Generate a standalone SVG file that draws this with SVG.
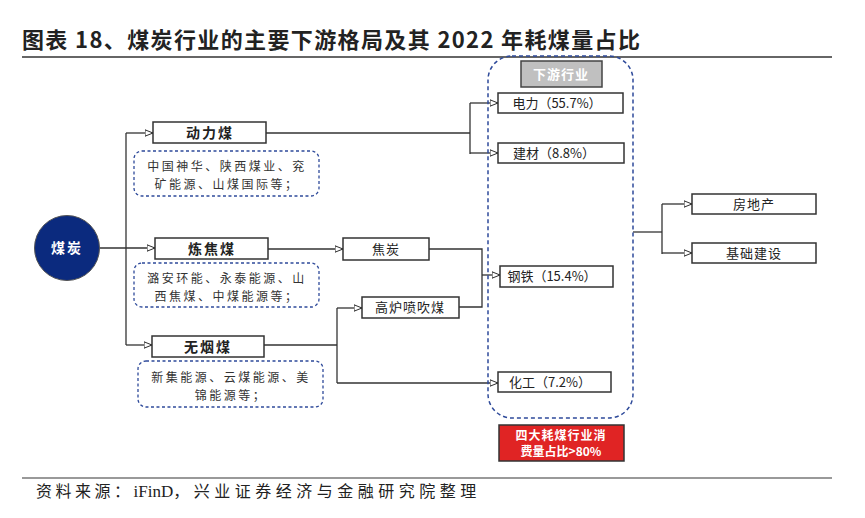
<svg xmlns="http://www.w3.org/2000/svg" width="865" height="518" viewBox="0 0 865 518">
<defs>
<marker id="arr" viewBox="0 0 10 10" refX="10" refY="5" markerWidth="8" markerHeight="8" markerUnits="userSpaceOnUse" orient="auto">
<path d="M0,1 L10,5 L0,9 Z" fill="#fff" stroke="#222" stroke-width="1.2"/>
</marker>
<style>
text{font-family:"Noto Sans CJK SC","Liberation Sans",sans-serif;fill:#222;}
.box{fill:#fff;stroke:#333;stroke-width:1.5;}
.dash{fill:#fff;stroke:#2E4A9A;stroke-width:1.3;stroke-dasharray:3,2.5;}
.t{font-size:13px;text-anchor:middle;}
.b{font-size:14px;font-weight:bold;text-anchor:middle;letter-spacing:2px;}
.d{font-size:12px;text-anchor:middle;letter-spacing:2.5px;fill:#333;}
.ln{fill:none;stroke:#333;stroke-width:1.3;}
</style>
</defs>
<rect width="865" height="518" fill="#fff"/>
<text x="22" y="48" font-size="22" font-weight="bold" textLength="618" lengthAdjust="spacing">图表 18、煤炭行业的主要下游格局及其 2022 年耗煤量占比</text>
<line x1="22" y1="57" x2="832" y2="57" stroke="#666" stroke-width="2"/>
<line x1="22" y1="478" x2="832" y2="478" stroke="#777" stroke-width="1.5"/>
<text x="36" y="497" font-size="16"><tspan letter-spacing="3.5">资料来源：</tspan><tspan font-family="Liberation Serif" font-size="17">iFinD</tspan><tspan letter-spacing="4.5">，兴业证券经济与金融研究院整理</tspan></text>

<g id="connectors">
<path class="ln" d="M100,248 H155" marker-end="url(#arr)"/>
<path class="ln" d="M126,133 V345"/>
<path class="ln" d="M126,133 H153" marker-end="url(#arr)"/>
<path class="ln" d="M126,345 H152" marker-end="url(#arr)"/>
<path class="ln" d="M266,133 H470"/>
<path class="ln" d="M470,103 V154"/>
<path class="ln" d="M470,103 H498" marker-end="url(#arr)"/>
<path class="ln" d="M470,153 H498" marker-end="url(#arr)"/>
<path class="ln" d="M268,249 H343" marker-end="url(#arr)"/>
<path class="ln" d="M429,249 H482 V307 H459"/>
<path class="ln" d="M482,275 H500" marker-end="url(#arr)"/>
<path class="ln" d="M264,345 H337"/>
<path class="ln" d="M337,308 V383"/>
<path class="ln" d="M337,308 H362" marker-end="url(#arr)"/>
<path class="ln" d="M337,383 H498" marker-end="url(#arr)"/>
<path class="ln" d="M633,232 H662"/>
<path class="ln" d="M662,204 V254"/>
<path class="ln" d="M662,204 H692" marker-end="url(#arr)"/>
<path class="ln" d="M662,253 H692" marker-end="url(#arr)"/>
</g>

<g id="downstream-group">
<rect x="488" y="56" width="145" height="362" rx="24" ry="24" fill="none" stroke="#2E4A9A" stroke-width="1.5" stroke-dasharray="4,3"/>
</g>

<g id="coal">
<circle cx="67" cy="248" r="32.5" fill="#0B2A7E" stroke="#555" stroke-width="1"/>
<text x="67" y="253" font-size="14" font-weight="bold" text-anchor="middle" style="fill:#fff" letter-spacing="2">煤炭</text>
</g>

<g id="dongliMei">
<rect class="box" x="153" y="122" width="113" height="21"/>
<text class="b" x="210" y="138">动力煤</text>
</g>
<g id="dongliMei-companies">
<rect class="dash" x="134" y="151" width="185" height="45" rx="8"/>
<text class="d" x="227" y="171">中国神华、陕西煤业、兖</text>
<text class="d" x="227" y="189">矿能源、山煤国际等；</text>
</g>

<g id="lianjiaoMei">
<rect class="box" x="155" y="238" width="113" height="21"/>
<text class="b" x="212" y="254">炼焦煤</text>
</g>
<g id="lianjiaoMei-companies">
<rect class="dash" x="134" y="263" width="185" height="44" rx="8"/>
<text class="d" x="227" y="283">潞安环能、永泰能源、山</text>
<text class="d" x="227" y="301">西焦煤、中煤能源等；</text>
</g>

<g id="wuyanMei">
<rect class="box" x="152" y="336" width="112" height="21"/>
<text class="b" x="208" y="352">无烟煤</text>
</g>
<g id="wuyanMei-companies">
<rect class="dash" x="138" y="361" width="185" height="46" rx="8"/>
<text class="d" x="231" y="382">新集能源、云煤能源、美</text>
<text class="d" x="231" y="400">锦能源等；</text>
</g>

<g id="jiaotan">
<rect class="box" x="343" y="238" width="86" height="22"/>
<text class="t" x="386" y="254" letter-spacing="1">焦炭</text>
</g>
<g id="gaolu">
<rect class="box" x="362" y="297" width="97" height="21"/>
<text class="t" x="410" y="312" letter-spacing="1">高炉喷吹煤</text>
</g>

<g id="xiayou-title">
<rect x="521" y="61" width="81" height="26" fill="#C0C0C0" stroke="#444" stroke-width="1.5"/>
<text x="561" y="79" font-size="13" font-weight="bold" text-anchor="middle" style="fill:#fff" letter-spacing="1">下游行业</text>
</g>
<g id="dianli">
<rect class="box" x="498" y="93" width="125" height="20"/>
<text class="t" x="557" y="108">电力（55.7%）</text>
</g>
<g id="jiancai">
<rect class="box" x="498" y="143" width="126" height="20"/>
<text class="t" x="554" y="158">建材（8.8%）</text>
</g>
<g id="gangtie">
<rect class="box" x="500" y="266" width="113" height="21"/>
<text class="t" x="552" y="281">钢铁（15.4%）</text>
</g>
<g id="huagong">
<rect class="box" x="498" y="372" width="113" height="20"/>
<text class="t" x="550" y="387">化工（7.2%）</text>
</g>
<g id="summary">
<rect x="499" y="425" width="125" height="36" fill="#E02424" stroke="#333" stroke-width="1.5"/>
<text x="561" y="440" font-size="12" font-weight="bold" text-anchor="middle" style="fill:#fff" letter-spacing="1">四大耗煤行业消</text>
<text x="561" y="456" font-size="12" font-weight="bold" text-anchor="middle" style="fill:#fff">费量占比&gt;80%</text>
</g>

<g id="fangdichan">
<rect class="box" x="692" y="194" width="124" height="20"/>
<text class="t" x="754" y="209" letter-spacing="1">房地产</text>
</g>
<g id="jichujianshe">
<rect class="box" x="692" y="243" width="124" height="20"/>
<text class="t" x="754" y="258" letter-spacing="1">基础建设</text>
</g>
</svg>
